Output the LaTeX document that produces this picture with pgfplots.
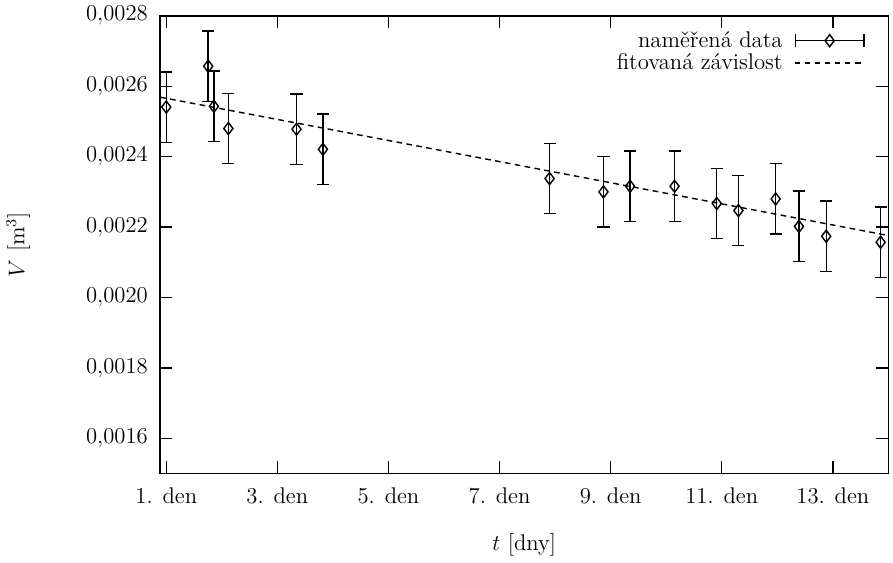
\documentclass[border=0pt]{standalone}
\usepackage{pgfplots}
\pgfplotsset{compat=1.18}
\usetikzlibrary{arrows.meta}

\begin{document}
\begin{tikzpicture}[font=\large]
\begin{axis}[
  scale only axis,
  width=385pt,
  height=242pt,
  xmin=0.89, xmax=14,
  ymin=0.0015, ymax=0.0028,
  axis line style={line width=0.8pt},
  tick align=inside,
  major tick length=6.5pt,
  tick style={black, line width=0.7pt},
  tick label style={font=\large},
  label style={font=\large},
  xtick={1,3,5,7,9,11,13},
  xticklabels={1. den,3. den,5. den,7. den,9. den,11. den,13. den},
  xticklabel style={yshift=-4pt},
  ytick={0.0016,0.0018,0.0020,0.0022,0.0024,0.0026,0.0028},
  scaled y ticks=false,
  yticklabel style={/pgf/number format/.cd, fixed, fixed zerofill, precision=4, use comma, /tikz/.cd, xshift=-3pt},
  xlabel={$t$ [dny]},
  xlabel style={at={(axis description cs:0.5,-0.155)}, anchor=center},
  ylabel={$V$ [m$^3$]},
  ylabel style={at={(axis description cs:-0.195,0.5)}, anchor=center},
  legend cell align=right,
  legend plot pos=right,
  legend style={draw=none, fill=none, at={(rel axis cs:1,1)}, anchor=north east,
    xshift=-9pt, yshift=-4pt, row sep=-2pt, column sep=4pt, font=\large},
  clip=false
]

% measured volumes with fixed uncertainty
\addplot[black, line width=0.75pt, only marks, mark=diamond,
  mark size=3.2pt, mark options={fill=white, line width=0.75pt},
  error bars/.cd, y dir=both, y fixed=0.0001,
  error bar style={line width=0.75pt},
  error mark options={rotate=90, mark size=3.2pt, line width=0.75pt},
  /pgfplots/legend image code/.code={
    \draw[black, line width=0.75pt, {|[width=7pt]}-{|[width=7pt]}] (0cm,0cm) -- (1.3cm,0cm);
    \draw[black, line width=0.75pt] plot[mark=diamond, mark size=3.2pt, mark options={fill=white}] coordinates {(0.65cm,0cm)};
  }]
  coordinates {
  (1.00,0.002541)
  (1.755,0.002657)
  (1.857,0.002543)
  (2.118,0.002480)
  (3.345,0.002478)
  (3.820,0.002421)
  (7.900,0.002338)
  (8.870,0.002300)
  (9.350,0.002316)
  (10.150,0.002316)
  (10.910,0.002267)
  (11.300,0.002247)
  (11.970,0.002280)
  (12.390,0.002202)
  (12.880,0.002174)
  (13.860,0.002157)
  };
\addlegendentry{naměřená data}

% fitted dependence
\addplot[black, line width=0.75pt, dash pattern=on 3pt off 2.3pt,
  legend image code/.code={\draw[black, line width=0.75pt, dash pattern=on 3pt off 2.3pt] (0cm,0cm) -- (1.3cm,0cm);}]
  coordinates {(0.89,0.002569) (5,0.002446) (10,0.002296) (14,0.002176)};
\addlegendentry{fitovaná závislost}

\end{axis}
\end{tikzpicture}
\end{document}
